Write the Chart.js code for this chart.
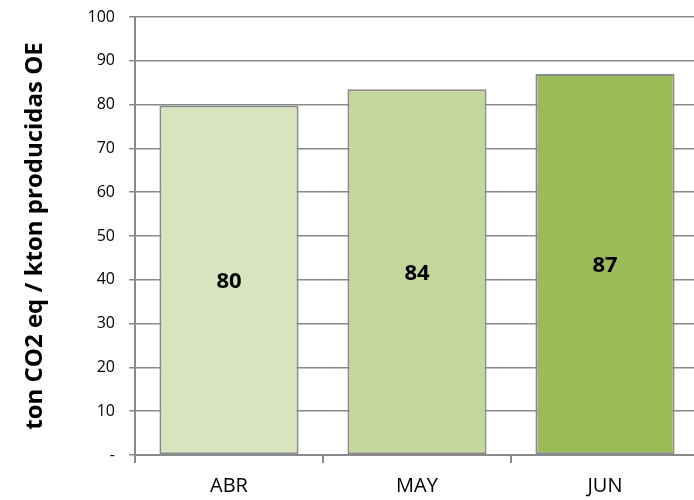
<!DOCTYPE html>
<html>
<head>
<meta charset="utf-8">
<script src="https://cdn.jsdelivr.net/npm/chart.js@4/dist/chart.umd.min.js"></script>
<style>
  html, body { margin: 0; padding: 0; background: #fff; overflow: hidden; }
  /* plot area runs a few pixels past the right edge, as in the original */
  #wrap { width: 694px; height: 500px; overflow: hidden; }
</style>
</head>
<body>
<div id="wrap"><canvas id="co2Chart" width="700" height="500"></canvas></div>
<script>
const months = ["ABR", "MAY", "JUN"];
const emissions = [79.8, 83.5, 87.0];
const barColors = ["#D7E4BD", "#C4D79B", "#9BBB59"];
const yTitle = "ton CO2 eq / kton producidas OE";

const lineGray = "#8a8a8a";
const font = "'Open Sans', 'DejaVu Sans', sans-serif";

// rounded values written in the middle of each bar
const barLabels = {
    id: "barLabels",
    afterDatasetsDraw(chart) {
        const ctx = chart.ctx;
        const meta = chart.getDatasetMeta(0);
        ctx.save();
        ctx.font = "bold 22px " + font;
        ctx.fillStyle = "#000";
        ctx.textAlign = "center";
        ctx.textBaseline = "middle";
        meta.data.forEach((bar, i) => {
            const v = chart.data.datasets[0].data[i];
            ctx.fillText(Math.round(v), bar.x, (bar.y + bar.base) / 2 + 2);
        });
        ctx.restore();
    }
};

const ctx = document.getElementById("co2Chart").getContext("2d");
const chart = new Chart(ctx, {
    type: "bar",
    data: {
        labels: months,
        datasets: [
            {
                data: emissions,
                backgroundColor: barColors,
                borderColor: lineGray,
                borderWidth: 2,
                borderSkipped: false,
                categoryPercentage: 1,
                barPercentage: 0.74,
            },
        ],
    },
    options: {
        responsive: false,
        animation: false,
        layout: { padding: { top: 17, right: 1, bottom: 0, left: 0 } },
        plugins: {
            legend: { display: false },
            tooltip: { enabled: false },
        },
        scales: {
            x: {
                grid: {
                    offset: true,
                    drawOnChartArea: false,
                    drawTicks: true,
                    tickLength: 8,
                    color: lineGray,
                    lineWidth: 2,
                },
                border: { color: lineGray, width: 2 },
                ticks: {
                    color: "#000",
                    padding: 11,
                    font: { family: font, size: 20 },
                },
                afterFit(scale) {
                    scale.height = 45;
                    scale.paddingLeft = 0;
                    scale.paddingRight = 0;
                },
            },
            y: {
                min: 0,
                max: 100,
                grid: {
                    color: lineGray,
                    lineWidth: 1.5,
                    tickLength: 6,
                },
                border: { color: lineGray, width: 2 },
                ticks: {
                    stepSize: 10,
                    color: "#000",
                    padding: 14,
                    font: { family: font, size: 16 },
                    callback: (v) => (v === 0 ? "-" : v),
                },
                title: {
                    display: true,
                    text: yTitle,
                    color: "#000",
                    padding: { top: 21, bottom: 0 },
                    font: { family: font, size: 24, weight: "bold" },
                },
                afterFit(scale) {
                    scale.width = 135;
                    scale.paddingTop = 0;
                    scale.paddingBottom = 0;
                },
            },
        },
    },
    plugins: [barLabels],
});
</script>
</body>
</html>
